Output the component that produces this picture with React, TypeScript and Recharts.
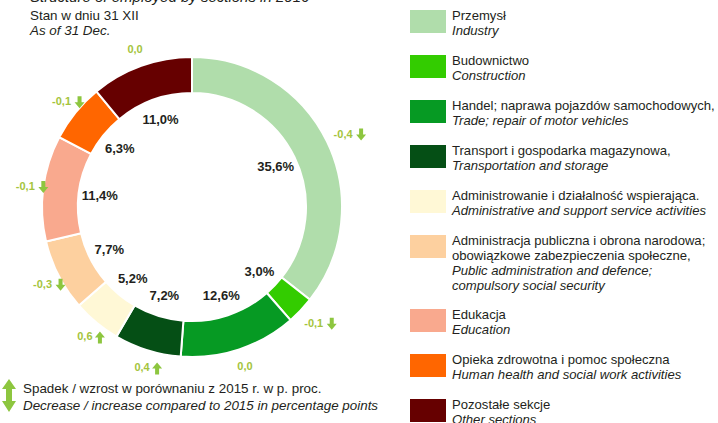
import React from 'react'
import { PieChart, Pie, Cell, Legend } from 'recharts'

// sections, clockwise from 12 o'clock
const sectionsPl = [
  'Przemysł',
  'Budownictwo',
  'Handel; naprawa pojazdów samochodowych,',
  'Transport i gospodarka magazynowa,',
  'Administrowanie i działalność wspierająca.',
  'Administracja publiczna i obrona narodowa;\nobowiązkowe zabezpieczenia społeczne,',
  'Edukacja',
  'Opieka zdrowotna i pomoc społeczna',
  'Pozostałe sekcje',
]
const sectionsEn = [
  'Industry',
  'Construction',
  'Trade; repair of motor vehicles',
  'Transportation and storage',
  'Administrative and support service activities',
  'Public administration and defence;\ncompulsory social security',
  'Education',
  'Human health and social work activities',
  'Other sections',
]
const shares = [35.6, 3.0, 12.6, 7.2, 5.2, 7.7, 11.4, 6.3, 11.0]
const changes = [-0.4, -0.1, 0.0, 0.4, 0.6, -0.3, -0.1, -0.1, 0.0]
const colors = ['#b0ddab', '#33cc00', '#069a23', '#054f15', '#fff8d6', '#fdd09f', '#f9a98e', '#ff6600', '#660000']

const data = sectionsEn.map((name, i) => ({ name, value: shares[i] }))

const FONT = '"Liberation Sans", Arial, sans-serif'
const TEXT = '#231f20'
const CHANGE_TEXT = '#a4c43c'
const ARROW = '#8dc63f'
const RAD = Math.PI / 180

const fmt = (v: number) => v.toFixed(1).replace('.', ',')

function arrowPath(x: number, y: number, up: boolean) {
  const d = up ? -1 : 1
  return `M${x - 2},${y - 6 * d} L${x + 2},${y - 6 * d} L${x + 2},${y} L${x + 5},${y} L${x},${y + 6 * d} L${x - 5},${y} L${x - 2},${y} Z`
}

const renderLabel = (props: any) => {
  const { cx, cy, midAngle, innerRadius, outerRadius, index } = props
  const cos = Math.cos(-midAngle * RAD)
  const sin = Math.sin(-midAngle * RAD)
  const ix = cx + (innerRadius - 21) * cos
  const iy = cy + (innerRadius - 21) * sin
  const ox = cx + (outerRadius + 18) * cos
  const oy = cy + (outerRadius + 18) * sin
  const ch = changes[index]
  const chText = fmt(ch)
  const w = chText.length * 6
  return (
    <g>
      <text x={ix} y={iy} textAnchor="middle" dominantBaseline="central"
        fontFamily={FONT} fontSize={13} fontWeight="bold" fill={TEXT}>
        {fmt(shares[index]) + '%'}
      </text>
      <text x={ox} y={oy} textAnchor="middle" dominantBaseline="central"
        fontFamily={FONT} fontSize={11} fontWeight="bold" fill={CHANGE_TEXT}>
        {chText}
      </text>
      {ch !== 0 && <path d={arrowPath(ox + w / 2 + 6, oy + 1, ch > 0)} fill={ARROW} />}
    </g>
  )
}

const LegendContent = () => (
  <div style={{ fontFamily: FONT, fontSize: 13.1, lineHeight: '15px', color: TEXT }}>
    {sectionsPl.map((pl, i) => (
      <div key={i} style={{ display: 'flex', marginBottom: i === 5 ? 14 : 15 }}>
        <div style={{ width: 36, height: 23, marginTop: 2, background: colors[i], flexShrink: 0 }} />
        <div style={{ marginLeft: 6, whiteSpace: 'pre' }}>
          <div>{pl}</div>
          <div style={{ fontStyle: 'italic' }}>{sectionsEn[i]}</div>
        </div>
      </div>
    ))}
  </div>
)

export default function App() {
  return (
    <div style={{ position: 'absolute', left: 0, top: 0, width: 718, height: 423, overflow: 'hidden', background: '#fff', fontFamily: FONT, color: TEXT }}>
      <div style={{ position: 'absolute', left: 30, top: -12, fontSize: 15, fontStyle: 'italic', whiteSpace: 'nowrap' }}>
        Structure of employed by sections in 2016
      </div>
      <div style={{ position: 'absolute', left: 30, top: 8, fontSize: 13.4, lineHeight: '15px' }}>
        <div>Stan w dniu 31 XII</div>
        <div style={{ fontStyle: 'italic' }}>As of 31 Dec.</div>
      </div>
      <PieChart width={718} height={423} margin={{ top: 0, right: 0, bottom: 0, left: 0 }}>
        <Pie
          data={data}
          dataKey="value"
          cx={192}
          cy={207}
          innerRadius={114}
          outerRadius={150}
          startAngle={90}
          endAngle={-270}
          stroke="#ffffff"
          strokeWidth={2}
          label={renderLabel}
          labelLine={false}
          isAnimationActive={false}
        >
          {data.map((_, i) => (
            <Cell key={i} fill={colors[i]} />
          ))}
        </Pie>
        <Legend
          layout="vertical"
          verticalAlign="top"
          align="right"
          content={() => <LegendContent />}
          wrapperStyle={{ left: 410, top: 8, width: 308 }}
        />
      </PieChart>
      <svg style={{ position: 'absolute', left: 0, top: 377 }} width={20} height={40}>
        <path d="M9,2 L16,12 L12,12 L12,24 L16,24 L9,35 L2,24 L6,24 L6,12 L2,12 Z" fill={ARROW} />
      </svg>
      <div style={{ position: 'absolute', left: 23, top: 380, fontSize: 13.4, lineHeight: '17px', whiteSpace: 'nowrap' }}>
        <div>Spadek / wzrost w porównaniu z 2015 r. w p. proc.</div>
        <div style={{ fontStyle: 'italic' }}>Decrease / increase compared to 2015 in percentage points</div>
      </div>
    </div>
  )
}
